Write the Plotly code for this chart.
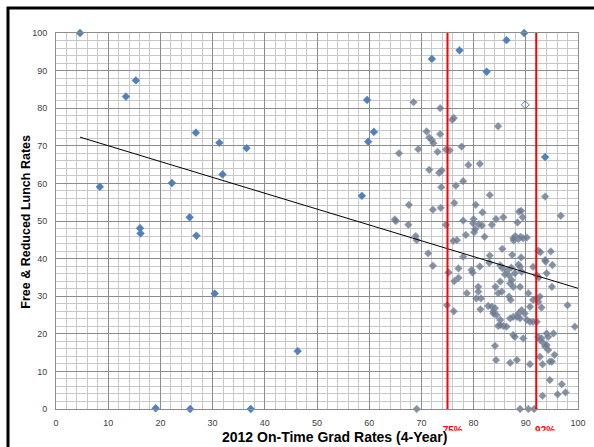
import plotly.graph_objects as go

# ---------------- data ----------------
blue_x = [4.6, 8.4, 13.4, 15.3, 16.1, 16.2, 19.1, 22.2, 25.6, 25.7, 26.8, 26.9, 30.4, 31.3,
          31.9, 36.5, 37.3, 46.3, 58.6, 59.6, 59.8, 60.9, 72.0, 77.3, 82.5, 86.3, 89.7, 93.7]
blue_y = [100, 59.1, 83.1, 87.4, 48.1, 46.7, 0.2, 60.1, 51.0, 0, 73.5, 46.1, 30.7, 70.8,
          62.4, 69.4, 0, 15.4, 56.7, 82.2, 71.1, 73.7, 93.1, 95.4, 89.7, 98.1, 100, 67.0]

hollow_x = [89.9]
hollow_y = [80.9]

gray_pts = [
    (68.5, 81.6), (73.6, 80.0), (75.9, 76.9), (76.2, 77.4), (84.7, 75.2),
    (71.0, 73.8), (71.5, 72.2), (72.0, 71.5), (72.3, 70.7), (73.6, 73.1),
    (69.4, 69.1), (65.7, 68.0), (73.1, 68.4), (74.7, 69.0), (75.4, 68.8), (77.7, 69.8),
    (79.0, 64.9), (81.2, 65.2), (71.5, 63.6), (73.4, 62.8), (73.9, 63.4),
    (73.8, 59.0), (76.6, 59.4), (78.0, 60.6), (83.1, 56.9), (93.7, 56.5),
    (67.6, 54.3), (72.2, 53.0), (73.7, 53.5), (76.3, 54.8), (80.4, 54.3), (81.7, 52.3),
    (88.7, 52.5), (89.1, 52.7), (85.7, 51.0), (84.3, 50.5), (89.4, 51.0), (96.7, 51.4),
    (80.0, 50.5), (64.9, 50.4), (65.1, 50.0), (67.5, 49.0), (74.7, 49.0), (78.0, 50.1),
    (79.9, 49.4), (81.0, 49.1), (81.6, 48.8), (83.5, 49.0), (88.4, 49.6),
    (68.9, 46.0), (69.1, 44.9), (76.1, 44.7), (76.8, 44.9), (78.5, 46.3), (80.1, 47.0),
    (80.3, 47.8), (82.1, 45.8), (85.5, 42.6), (88.0, 46.0), (88.6, 45.2), (87.7, 44.8),
    (89.0, 45.8), (87.6, 45.4), (89.5, 45.4), (90.2, 45.6),
    (87.4, 41.0), (92.4, 42.1), (92.8, 41.7), (94.8, 41.9), (71.3, 41.4), (72.2, 38.1),
    (78.0, 40.5), (83.1, 40.8), (89.1, 40.3), (83.0, 38.9), (81.2, 37.9), (79.6, 37.0),
    (79.8, 36.3), (77.1, 37.4), (75.2, 36.3), (76.3, 34.0), (77.1, 34.9),
    (85.1, 38.2), (88.6, 38.4), (88.9, 37.8), (85.5, 37.5), (86.4, 36.8), (87.2, 37.6),
    (86.8, 35.5), (87.9, 36.1), (86.0, 35.8), (89.2, 36.5), (92.1, 35.6), (92.5, 35.0),
    (93.8, 39.2), (94.0, 36.1), (95.1, 38.3), (95.0, 32.5), (93.7, 39.6), (91.4, 37.8),
    (84.2, 32.5), (85.1, 33.9), (84.7, 30.8), (85.4, 31.2), (87.0, 33.4), (87.3, 34.3),
    (87.6, 32.5), (88.9, 32.5), (80.9, 32.5), (80.9, 31.2), (81.4, 29.4), (80.5, 29.4),
    (78.7, 30.8), (86.8, 29.9), (87.1, 29.0), (90.5, 30.8), (91.4, 29.0), (92.1, 29.4),
    (92.4, 28.5), (92.7, 29.9), (93.0, 27.0), (98.0, 27.6),
    (74.9, 27.6), (76.2, 26.0), (81.3, 26.5), (82.8, 27.4), (83.5, 27.2), (84.1, 26.8),
    (83.8, 25.9), (84.4, 25.0), (85.1, 23.7), (84.7, 22.1), (85.7, 22.1), (86.3, 21.9),
    (87.0, 24.1), (87.6, 24.5), (88.3, 24.5), (88.9, 24.1), (88.6, 25.4), (89.2, 26.3),
    (89.8, 25.4), (90.8, 27.2), (90.2, 23.7), (90.8, 23.2), (91.4, 23.2), (92.1, 23.2),
    (99.4, 21.9), (83.8, 25.4), (85.1, 22.3),
    (94.0, 20.1), (94.3, 19.2), (95.3, 20.1), (92.4, 19.2), (93.0, 18.8), (92.7, 18.4),
    (93.4, 17.5), (93.7, 16.6), (94.0, 17.0), (94.3, 15.7), (87.6, 19.7), (89.5, 18.8),
    (87.9, 19.2), (84.1, 16.8), (95.5, 14.4), (92.7, 13.9), (84.3, 13.0), (87.0, 12.3),
    (88.3, 13.0), (90.8, 11.9), (93.2, 11.9), (94.6, 12.6), (95.0, 12.6),
    (94.6, 7.7), (96.9, 6.6), (97.6, 4.4), (96.1, 3.9), (93.2, 3.5),
    (69.1, 0.0), (69.6, -0.2), (88.9, 0.0), (90.5, 0.0), (91.6, 0.0),
]
gray_x = [p[0] for p in gray_pts]
gray_y = [p[1] for p in gray_pts]

trend_x = [4.6, 100]
trend_y = [72.3, 32.1]

cutoffs = [75, 92]
cutoff_labels = ["75%", "92%"]
cutoff_label_shift = [1.0, 1.7]

x_ticks = list(range(0, 101, 10))
y_ticks = list(range(0, 101, 10))

# ---------------- figure ----------------
W, H = 594, 447
ML, MR, MT, MB = 56, 16, 33, 0
PW, PH = W - ML - MR, H - MT - MB
def py2paper(py):
    return (H - MB - py) / PH
def px2paper(px):
    return (px - ML) / PW

plot_bottom_px = 409
label_clip_px = 430.7

BLUE = "#4F81BD"
GRAY = "#6E7A8C"
MAJOR = "#8C8C8C"
MINOR = "#C8C8C8"

fig = go.Figure()

fig.add_trace(go.Scatter(
    x=gray_x, y=gray_y, mode="markers", cliponaxis=False,
    marker=dict(symbol="diamond", size=6, color=GRAY, opacity=0.82,
                line=dict(width=0.8, color="rgba(130,160,200,0.6)")),
    showlegend=False, hoverinfo="skip"))

fig.add_trace(go.Scatter(
    x=blue_x, y=blue_y, mode="markers", cliponaxis=False,
    marker=dict(symbol="diamond", size=6, color=BLUE, line=dict(width=0.5, color=BLUE)),
    showlegend=False))

fig.add_trace(go.Scatter(
    x=hollow_x, y=hollow_y, mode="markers",
    marker=dict(symbol="diamond-open", size=6, color=BLUE, line=dict(width=1, color=BLUE)),
    showlegend=False))

fig.add_trace(go.Scatter(
    x=trend_x, y=trend_y, mode="lines",
    line=dict(color="black", width=1), showlegend=False))

for c in cutoffs:
    fig.add_trace(go.Scatter(
        x=[c, c], y=[y_ticks[0], y_ticks[-1]], mode="lines",
        line=dict(color="#FF0000", width=2), showlegend=False))

# clipped red labels under the axis
fig.add_trace(go.Scatter(
    x=[c + s for c, s in zip(cutoffs, cutoff_label_shift)], y=[-0.05, -0.05],
    text=cutoff_labels, mode="text", textposition="middle center",
    textfont=dict(family="Liberation Sans", size=10, color="#FF0000", weight="bold"),
    cliponaxis=True, xaxis="x2", yaxis="y2", showlegend=False))

grid_common = dict(
    showgrid=True, gridcolor=MAJOR, gridwidth=1,
    minor=dict(dtick=2, showgrid=True, gridcolor=MINOR, gridwidth=1),
    showline=True, linecolor=MAJOR, linewidth=1, mirror=True,
    zeroline=False, ticks="",
    tickfont=dict(family="Liberation Sans", size=9, color="#404040"),
    fixedrange=True,
)

fig.update_layout(
    width=W, height=H, autosize=False,
    margin=dict(l=ML, r=MR, t=MT, b=MB, autoexpand=False),
    paper_bgcolor="white", plot_bgcolor="white",
    xaxis=dict(range=[0, 100], tickmode="array", tickvals=x_ticks,
               ticklabelstandoff=5, anchor="y", **grid_common),
    yaxis=dict(range=[0, 100], tickmode="array", tickvals=y_ticks,
               domain=[py2paper(plot_bottom_px), 1], ticklabelstandoff=6,
               anchor="x", **grid_common),
    xaxis2=dict(range=[0, 100], domain=[0, 1], visible=False, anchor="y2", fixedrange=True),
    yaxis2=dict(range=[0, 1], domain=[py2paper(label_clip_px), py2paper(plot_bottom_px)],
                visible=False, anchor="x2", fixedrange=True),
    showlegend=False,
)

fig.add_annotation(
    text="<b>2012 On-Time Grad Rates (4-Year)</b>", xref="paper", yref="paper",
    x=px2paper(334.7), y=py2paper(436.7), xanchor="center", yanchor="middle",
    showarrow=False, font=dict(family="Liberation Sans", size=14, color="black"))
fig.add_annotation(
    text="<b>Free & Reduced Lunch Rates</b>", xref="paper", yref="paper",
    x=px2paper(26), y=py2paper(221.7), xanchor="center", yanchor="middle",
    textangle=-90, showarrow=False,
    font=dict(family="Liberation Sans", size=12.5, color="black"))

# outer black frame (right & bottom edges lie outside the picture)
fig.add_shape(type="rect", xref="paper", yref="paper",
              x0=px2paper(8), x1=px2paper(W + 40), y0=py2paper(H + 40), y1=py2paper(8),
              line=dict(color="black", width=3), fillcolor="rgba(0,0,0,0)", layer="above")

fig.write_html("out.html")
